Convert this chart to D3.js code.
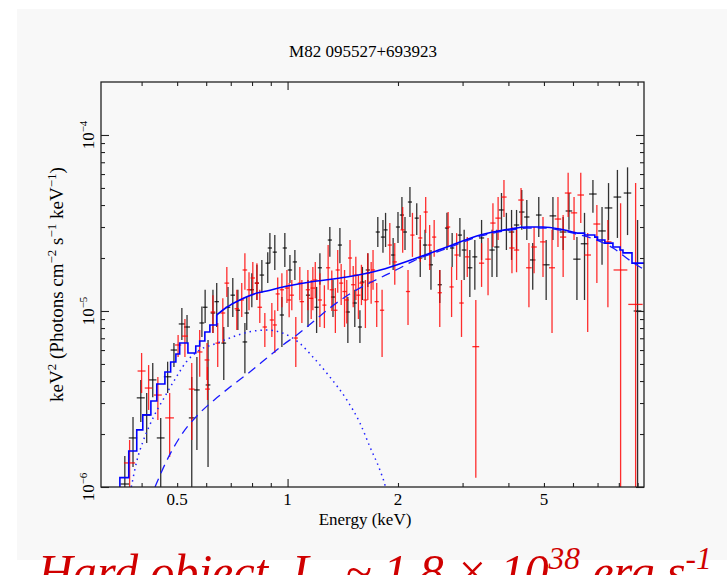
<!DOCTYPE html>
<html>
<head>
<meta charset="utf-8">
<script src="https://cdn.jsdelivr.net/npm/d3@7"></script>
<style>
  html, body { margin: 0; padding: 0; background: #fff; }
  svg { display: block; }
  text { font-family: "Liberation Serif", "Times New Roman", serif; fill: #000; }
</style>
</head>
<body>
<svg id="chart" width="727" height="575"></svg>
<script>
// ---- data ----
var chartTitle = "M82 095527+693923";
var xTickLabels = [0.5, 1, 2, 5];
var xMajorTicks = [1];
var xMinorTicks = [0.4, 0.5, 0.6, 0.7, 0.8, 0.9, 2, 3, 4, 5, 6, 7, 8, 9];
var yTickLabels = [1e-6, 1e-5, 1e-4];
var yTickExponents = ["\u22126", "\u22125", "\u22124"];
var yMajorTicks = [1e-6, 1e-5, 1e-4];
var yMinorTicks = [2e-6, 3e-6, 4e-6, 5e-6, 6e-6, 7e-6, 8e-6, 9e-6,
                   2e-5, 3e-5, 4e-5, 5e-5, 6e-5, 7e-5, 8e-5, 9e-5];

// [energy keV, half bin width keV, flux, lower, upper]
var blackData = [
  [0.360, 0.010, 1.04e-6, 5e-7, 1.50e-6], [0.379, 0.010, 1.90e-6, 1.30e-6, 2.50e-6],
  [0.398, 0.010, 3.21e-6, 2.34e-6, 4.06e-6], [0.413, 0.010, 2.56e-6, 1.78e-6, 3.42e-6],
  [0.429, 0.010, 4.06e-6, 3.24e-6, 5.07e-6], [0.451, 0.011, 1.90e-6, 5e-7, 2.47e-6],
  [0.471, 0.011, 4.23e-6, 3.42e-6, 5.15e-6], [0.490, 0.010, 6.00e-6, 4.81e-6, 6.57e-6],
  [0.515, 0.010, 8.44e-6, 6.84e-6, 1.04e-5], [0.532, 0.010, 8.11e-6, 6.57e-6, 9.49e-6],
  [0.548, 0.010, 2.47e-6, 5e-7, 4.22e-6], [0.566, 0.010, 3.56e-6, 1.62e-6, 5.48e-6],
  [0.584, 0.009, 8.55e-6, 7.12e-6, 1.06e-5], [0.596, 0.009, 1.05e-5, 8.55e-6, 1.32e-5],
  [0.607, 0.009, 3.80e-6, 1.30e-6, 6.84e-6], [0.626, 0.009, 9.74e-6, 7.50e-6, 1.32e-5],
  [0.641, 0.009, 1.13e-5, 8.11e-6, 1.44e-5], [0.670, 0.010, 6.57e-6, 4.06e-6, 8.11e-6],
  [0.688, 0.010, 1.05e-5, 8.11e-6, 1.37e-5], [0.709, 0.010, 1.23e-5, 9.24e-6, 1.54e-5],
  [0.732, 0.010, 1.01e-5, 7.80e-6, 1.32e-5], [0.765, 0.011, 6.67e-6, 4.43e-6, 8.55e-6],
  [0.774, 0.011, 9.74e-6, 7.80e-6, 1.20e-5], [0.799, 0.011, 1.32e-5, 1.05e-5, 1.64e-5],
  [0.825, 0.011, 1.44e-5, 1.155e-5, 1.83e-5], [0.851, 0.012, 1.60e-5, 1.27e-5, 1.95e-5],
  [0.883, 0.012, 1.87e-5, 1.44e-5, 2.16e-5], [0.895, 0.012, 2.28e-5, 1.87e-5, 2.77e-5],
  [0.923, 0.012, 2.16e-5, 1.71e-5, 2.70e-5], [0.965, 0.013, 9.49e-6, 6.24e-6, 1.20e-5],
  [0.983, 0.013, 2.28e-5, 1.78e-5, 2.77e-5], [1.015, 0.014, 1.71e-5, 1.44e-5, 2.08e-5],
  [1.047, 0.014, 1.90e-5, 1.50e-5, 2.22e-5], [1.137, 0.015, 1.23e-5, 8.11e-6, 1.50e-5],
  [1.200, 0.016, 1.05e-5, 7.50e-6, 1.37e-5], [1.225, 0.016, 1.76e-5, 1.41e-5, 2.13e-5],
  [1.304, 0.017, 2.53e-5, 2.03e-5, 3.00e-5], [1.330, 0.017, 1.20e-5, 9.24e-6, 1.50e-5],
  [1.389, 0.018, 2.37e-5, 1.87e-5, 2.96e-5], [1.460, 0.019, 9.87e-6, 6.57e-6, 1.20e-5],
  [1.525, 0.020, 1.11e-5, 8.11e-6, 1.32e-5], [1.575, 0.020, 8.11e-6, 6.57e-6, 1.01e-5],
  [1.600, 0.021, 1.46e-5, 1.155e-5, 1.78e-5], [1.655, 0.022, 1.71e-5, 1.37e-5, 2.13e-5],
  [1.762, 0.023, 2.81e-5, 2.31e-5, 3.42e-5], [1.820, 0.024, 2.63e-5, 2.14e-5, 3.29e-5],
  [1.850, 0.024, 2.89e-5, 2.31e-5, 3.61e-5], [1.940, 0.025, 2.08e-5, 1.71e-5, 2.60e-5],
  [2.000, 0.026, 3.00e-5, 2.43e-5, 3.65e-5], [2.050, 0.027, 3.51e-5, 2.89e-5, 4.44e-5],
  [2.090, 0.027, 2.81e-5, 2.22e-5, 3.42e-5], [2.156, 0.028, 4.16e-5, 3.42e-5, 5.07e-5],
  [2.250, 0.029, 3.37e-5, 2.70e-5, 4.10e-5], [2.300, 0.030, 2.00e-5, 1.56e-5, 2.53e-5],
  [2.370, 0.031, 2.37e-5, 1.95e-5, 2.89e-5], [2.460, 0.032, 1.83e-5, 1.32e-5, 2.22e-5],
  [2.600, 0.034, 1.41e-5, 1.11e-5, 1.71e-5], [2.720, 0.035, 2.96e-5, 2.22e-5, 3.61e-5],
  [2.810, 0.037, 2.28e-5, 1.78e-5, 2.77e-5], [2.950, 0.040, 2.70e-5, 2.03e-5, 3.37e-5],
  [3.030, 0.045, 2.22e-5, 1.50e-5, 2.89e-5], [3.140, 0.050, 1.76e-5, 1.20e-5, 2.22e-5],
  [3.240, 0.050, 2.03e-5, 1.32e-5, 2.53e-5], [3.380, 0.055, 2.60e-5, 1.95e-5, 3.29e-5],
  [3.610, 0.060, 2.22e-5, 1.56e-5, 2.89e-5], [3.720, 0.060, 2.31e-5, 1.56e-5, 2.89e-5],
  [3.830, 0.065, 3.75e-5, 2.89e-5, 4.68e-5], [3.950, 0.065, 2.89e-5, 2.22e-5, 3.61e-5],
  [4.080, 0.070, 2.81e-5, 1.95e-5, 3.75e-5], [4.210, 0.070, 3.08e-5, 2.22e-5, 3.75e-5],
  [4.350, 0.075, 3.65e-5, 2.89e-5, 4.87e-5], [4.490, 0.075, 3.42e-5, 2.53e-5, 4.27e-5],
  [4.660, 0.080, 1.95e-5, 1.32e-5, 2.43e-5], [4.840, 0.085, 3.51e-5, 2.63e-5, 4.44e-5],
  [5.070, 0.110, 1.83e-5, 1.155e-5, 2.53e-5], [5.290, 0.110, 3.47e-5, 2.53e-5, 4.44e-5],
  [5.640, 0.120, 2.81e-5, 2.22e-5, 3.42e-5], [5.850, 0.120, 3.70e-5, 2.89e-5, 4.68e-5],
  [6.150, 0.140, 1.97e-5, 1.155e-5, 2.63e-5], [6.450, 0.150, 2.41e-5, 1.155e-5, 3.61e-5],
  [6.800, 0.160, 4.62e-5, 3.61e-5, 5.55e-5], [7.200, 0.170, 2.85e-5, 1.83e-5, 3.90e-5],
  [7.500, 0.180, 3.85e-5, 2.53e-5, 5.33e-5], [7.930, 0.190, 4.44e-5, 2.60e-5, 6.33e-5],
  [8.450, 0.200, 4.68e-5, 2.70e-5, 6.55e-5], [9.000, 0.220, 1.00e-5, 5e-7, 3.29e-5]
];

var redData = [
  [0.371, 0.013, 1.37e-6, 5e-7, 1.85e-6], [0.400, 0.010, 4.56e-6, 3.42e-6, 5.77e-6],
  [0.418, 0.010, 3.65e-6, 2.74e-6, 4.93e-6], [0.443, 0.011, 3.33e-6, 2.40e-6, 4.22e-6],
  [0.477, 0.013, 2.47e-6, 1.48e-6, 3.42e-6], [0.503, 0.010, 6.41e-6, 5.48e-6, 7.31e-6],
  [0.525, 0.010, 7.20e-6, 5.48e-6, 9.00e-6], [0.548, 0.010, 3.60e-6, 1.85e-6, 5.07e-6],
  [0.576, 0.010, 5.85e-6, 4.23e-6, 7.80e-6], [0.603, 0.009, 5.27e-6, 4.06e-6, 6.57e-6],
  [0.605, 0.009, 3.60e-6, 3.12e-6, 4.81e-6], [0.626, 0.009, 9.87e-6, 7.50e-6, 1.23e-5],
  [0.645, 0.009, 6.57e-6, 4.81e-6, 8.55e-6], [0.666, 0.010, 9.74e-6, 6.57e-6, 1.18e-5],
  [0.683, 0.010, 1.44e-5, 1.20e-5, 1.78e-5], [0.727, 0.010, 1.03e-5, 7.80e-6, 1.32e-5],
  [0.750, 0.011, 1.155e-5, 9.24e-6, 1.44e-5], [0.765, 0.011, 1.71e-5, 1.32e-5, 2.13e-5],
  [0.785, 0.011, 1.32e-5, 1.01e-5, 1.66e-5], [0.804, 0.011, 1.54e-5, 1.23e-5, 1.90e-5],
  [0.825, 0.011, 1.44e-5, 1.155e-5, 1.87e-5], [0.840, 0.012, 1.05e-5, 8.55e-6, 1.32e-5],
  [0.867, 0.012, 8.11e-6, 6.24e-6, 9.74e-6], [0.906, 0.012, 8.89e-6, 7.12e-6, 1.11e-5],
  [0.923, 0.012, 8.33e-6, 5.77e-6, 1.01e-5], [0.940, 0.012, 1.25e-5, 1.00e-5, 1.55e-5],
  [0.965, 0.013, 1.32e-5, 1.05e-5, 1.64e-5], [0.996, 0.013, 1.35e-5, 1.11e-5, 1.71e-5],
  [1.010, 0.013, 1.155e-5, 9.20e-6, 1.44e-5], [1.027, 0.014, 1.23e-5, 1.01e-5, 1.50e-5],
  [1.053, 0.014, 7.02e-6, 4.81e-6, 9.24e-6], [1.080, 0.014, 1.44e-5, 1.15e-5, 1.78e-5],
  [1.094, 0.015, 1.13e-5, 8.55e-6, 1.50e-5], [1.136, 0.015, 1.32e-5, 1.01e-5, 1.71e-5],
  [1.160, 0.015, 1.18e-5, 9.00e-6, 1.50e-5], [1.172, 0.016, 1.35e-5, 1.01e-5, 1.78e-5],
  [1.190, 0.016, 1.50e-5, 1.18e-5, 1.90e-5], [1.225, 0.016, 1.155e-5, 8.11e-6, 1.64e-5],
  [1.260, 0.016, 1.08e-5, 8.00e-6, 1.40e-5], [1.290, 0.017, 1.76e-5, 1.32e-5, 2.37e-5],
  [1.320, 0.017, 1.32e-5, 1.00e-5, 1.70e-5], [1.350, 0.018, 1.01e-5, 7.50e-6, 1.35e-5],
  [1.370, 0.018, 1.71e-5, 1.27e-5, 2.22e-5], [1.400, 0.018, 1.44e-5, 1.08e-5, 1.85e-5],
  [1.430, 0.019, 1.29e-5, 8.11e-6, 1.71e-5], [1.450, 0.019, 1.155e-5, 8.50e-6, 1.50e-5],
  [1.480, 0.019, 2.00e-5, 1.56e-5, 2.53e-5], [1.510, 0.020, 1.41e-5, 1.05e-5, 1.80e-5],
  [1.535, 0.020, 1.60e-5, 1.155e-5, 2.03e-5], [1.560, 0.020, 1.23e-5, 9.00e-6, 1.60e-5],
  [1.590, 0.021, 1.44e-5, 1.08e-5, 1.83e-5], [1.630, 0.021, 1.155e-5, 8.00e-6, 1.50e-5],
  [1.655, 0.022, 1.64e-5, 1.155e-5, 2.13e-5], [1.690, 0.022, 1.46e-5, 1.10e-5, 1.90e-5],
  [1.710, 0.022, 1.71e-5, 1.32e-5, 2.22e-5], [1.750, 0.023, 1.13e-5, 8.11e-6, 1.44e-5],
  [1.810, 0.024, 1.01e-5, 5.48e-6, 1.32e-5], [1.900, 0.025, 2.37e-5, 1.83e-5, 3.16e-5],
  [1.960, 0.026, 1.90e-5, 1.41e-5, 2.43e-5], [2.060, 0.027, 2.89e-5, 2.14e-5, 3.90e-5],
  [2.130, 0.028, 1.29e-5, 8.33e-6, 1.71e-5], [2.190, 0.029, 2.70e-5, 2.03e-5, 3.61e-5],
  [2.300, 0.030, 2.60e-5, 1.90e-5, 3.51e-5], [2.380, 0.031, 3.65e-5, 2.77e-5, 4.44e-5],
  [2.440, 0.032, 2.37e-5, 1.71e-5, 3.08e-5], [2.510, 0.033, 2.63e-5, 2.03e-5, 3.29e-5],
  [2.600, 0.034, 1.27e-5, 8.11e-6, 1.71e-5], [2.740, 0.036, 3.00e-5, 2.31e-5, 3.65e-5],
  [2.800, 0.037, 1.37e-5, 9.24e-6, 1.78e-5], [2.890, 0.040, 2.08e-5, 1.50e-5, 2.77e-5],
  [2.980, 0.042, 1.11e-5, 7.12e-6, 1.50e-5], [3.090, 0.045, 2.03e-5, 1.56e-5, 2.63e-5],
  [3.260, 0.070, 6.27e-6, 1.13e-6, 1.155e-5], [3.380, 0.055, 1.87e-5, 1.37e-5, 2.43e-5],
  [3.520, 0.060, 1.97e-5, 1.23e-5, 2.60e-5], [3.630, 0.060, 3.16e-5, 2.31e-5, 4.10e-5],
  [3.750, 0.065, 3.37e-5, 2.53e-5, 4.44e-5], [3.890, 0.065, 4.44e-5, 3.42e-5, 5.55e-5],
  [4.090, 0.070, 2.28e-5, 1.64e-5, 3.00e-5], [4.210, 0.070, 2.22e-5, 1.66e-5, 2.89e-5],
  [4.330, 0.075, 4.27e-5, 3.08e-5, 4.99e-5], [4.550, 0.080, 1.76e-5, 1.05e-5, 2.43e-5],
  [4.700, 0.080, 2.31e-5, 1.64e-5, 3.00e-5], [4.970, 0.090, 2.47e-5, 1.56e-5, 3.42e-5],
  [5.260, 0.100, 1.76e-5, 7.50e-6, 2.89e-5], [5.460, 0.110, 3.33e-5, 2.31e-5, 4.44e-5],
  [5.640, 0.110, 2.63e-5, 1.56e-5, 3.51e-5], [5.820, 0.120, 4.68e-5, 3.42e-5, 6.10e-5],
  [6.040, 0.120, 3.61e-5, 2.53e-5, 4.44e-5], [6.300, 0.130, 4.56e-5, 3.16e-5, 6.10e-5],
  [6.580, 0.140, 2.08e-5, 7.60e-6, 2.77e-5], [6.970, 0.150, 3.12e-5, 1.44e-5, 4.00e-5],
  [7.470, 0.170, 2.47e-5, 1.05e-5, 3.29e-5], [8.090, 0.350, 1.71e-5, 5e-7, 4.10e-5],
  [8.890, 0.400, 1.09e-5, 5e-7, 5.33e-5]
];

// total model: stepped at the soft end, smooth in the middle, stepped at the hard end
var modelSoft = [
  [0.330, 5e-7], [0.349, 1.13e-6], [0.369, 1.60e-6], [0.388, 2.11e-6], [0.403, 2.57e-6],
  [0.424, 3.08e-6], [0.440, 3.85e-6], [0.463, 4.50e-6], [0.480, 5.13e-6], [0.496, 5.70e-6],
  [0.508, 6.58e-6], [0.535, 5.77e-6], [0.562, 6.32e-6], [0.576, 6.75e-6], [0.595, 7.60e-6],
  [0.614, 8.33e-6], [0.641, 9.49e-6]
];
var modelMid = [
  [0.641, 9.49e-6], [0.683, 1.05e-5], [0.741, 1.155e-5], [0.825, 1.265e-5], [0.878, 1.30e-5],
  [0.971, 1.37e-5], [1.150, 1.46e-5], [1.450, 1.56e-5], [1.790, 1.71e-5], [2.200, 1.97e-5],
  [2.720, 2.31e-5], [3.350, 2.70e-5], [3.630, 2.81e-5], [4.040, 2.92e-5], [4.490, 3.00e-5],
  [4.970, 3.00e-5], [5.530, 2.92e-5], [6.150, 2.77e-5]
];
var modelHard = [
  [6.150, 2.77e-5], [6.450, 2.70e-5], [6.880, 2.63e-5], [7.000, 2.53e-5], [7.330, 2.43e-5],
  [7.710, 2.31e-5], [8.060, 2.22e-5], [8.210, 2.14e-5], [8.690, 1.87e-5], [9.370, 1.87e-5]
];
// power-law component (dashed) and thermal component (dotted)
var powerlaw = [
  [0.435, 1.00e-6], [0.469, 1.42e-6], [0.518, 2.03e-6], [0.576, 2.63e-6], [0.641, 3.21e-6],
  [0.709, 3.80e-6], [0.789, 4.50e-6], [0.878, 5.40e-6], [0.971, 6.41e-6], [1.060, 7.31e-6],
  [1.172, 8.66e-6], [1.304, 1.04e-5], [1.451, 1.22e-5], [1.605, 1.38e-5], [1.785, 1.54e-5],
  [1.986, 1.72e-5], [2.200, 1.92e-5], [2.720, 2.27e-5], [3.350, 2.66e-5], [4.040, 2.88e-5],
  [4.490, 2.96e-5], [4.970, 2.96e-5], [5.530, 2.88e-5], [6.150, 2.73e-5], [6.800, 2.58e-5],
  [7.710, 2.28e-5], [8.690, 1.90e-5], [9.370, 1.72e-5]
];
var thermal = [
  [0.375, 1.00e-6], [0.388, 1.40e-6], [0.403, 1.80e-6], [0.421, 2.25e-6], [0.468, 3.40e-6],
  [0.498, 4.23e-6], [0.530, 5.15e-6], [0.576, 6.00e-6], [0.640, 6.55e-6], [0.711, 7.14e-6],
  [0.789, 7.62e-6], [0.876, 7.80e-6], [0.973, 7.47e-6], [1.080, 6.55e-6], [1.172, 5.48e-6],
  [1.304, 4.22e-6], [1.451, 3.12e-6], [1.575, 2.31e-6], [1.677, 1.69e-6], [1.785, 1.25e-6],
  [1.842, 1.03e-6], [1.870, 9.0e-7]
];

// ---- layout ----
var svg = d3.select("#chart");
var plotLeft = 101, plotRight = 644, plotTop = 82, plotBottom = 487;

var x = d3.scaleLog().domain([0.31, 9.37]).range([plotLeft, plotRight]);
var y = d3.scaleLog().domain([1e-6, 2e-4]).range([plotBottom, plotTop]);

svg.append("rect").attr("x", 17).attr("y", 9).attr("width", 710).attr("height", 551)
  .attr("fill", "#f8f8f8");

svg.append("clipPath").attr("id", "plotClip").append("rect")
  .attr("x", plotLeft).attr("y", plotTop)
  .attr("width", plotRight - plotLeft).attr("height", plotBottom - plotTop);

var plot = svg.append("g").attr("clip-path", "url(#plotClip)");

function drawSeries(data, color, opacity) {
  var g = plot.append("g").attr("stroke", color).attr("stroke-width", 1.3)
    .attr("stroke-opacity", opacity);
  g.selectAll("line.v").data(data).join("line").attr("class", "v")
    .attr("x1", function (d) { return x(d[0]); })
    .attr("x2", function (d) { return x(d[0]); })
    .attr("y1", function (d) { return y(d[3]); })
    .attr("y2", function (d) { return y(d[4]); });
  g.selectAll("line.h").data(data).join("line").attr("class", "h")
    .attr("x1", function (d) { return x(d[0] - d[1]); })
    .attr("x2", function (d) { return x(d[0] + d[1]); })
    .attr("y1", function (d) { return y(d[2]); })
    .attr("y2", function (d) { return y(d[2]); });
}
drawSeries(blackData, "#000", 0.8);
drawSeries(redData, "#ff0000", 0.82);

function lineGen(curve) {
  return d3.line().x(function (d) { return x(d[0]); })
    .y(function (d) { return y(d[1]); }).curve(curve);
}
plot.append("path").attr("d", lineGen(d3.curveMonotoneX)(thermal))
  .attr("fill", "none").attr("stroke", "#2020ff").attr("stroke-width", 1.5)
  .attr("stroke-dasharray", "1.5,4");
plot.append("path").attr("d", lineGen(d3.curveMonotoneX)(powerlaw))
  .attr("fill", "none").attr("stroke", "#1a1aff").attr("stroke-width", 1.3)
  .attr("stroke-dasharray", "9,6");
var modelStyle = function (p) {
  p.attr("fill", "none").attr("stroke", "#0000ff").attr("stroke-width", 1.6);
};
plot.append("path").attr("d", lineGen(d3.curveStepAfter)(modelSoft)).call(modelStyle);
plot.append("path").attr("d", lineGen(d3.curveMonotoneX)(modelMid)).call(modelStyle);
plot.append("path").attr("d", lineGen(d3.curveStepAfter)(modelHard)).call(modelStyle);

// ---- frame and ticks ----
var frame = svg.append("g");
function tickAxis(gen, values, size, tx, ty) {
  var g = frame.append("g").attr("transform", "translate(" + tx + "," + ty + ")")
    .call(gen.tickValues(values).tickSize(size).tickFormat(""));
  g.select(".domain").remove();
  g.selectAll(".tick line").attr("stroke", "#222").attr("stroke-width", 1.1);
}
tickAxis(d3.axisBottom(x), xMinorTicks, -4, 0, plotBottom);
tickAxis(d3.axisBottom(x), xMajorTicks, -8, 0, plotBottom);
tickAxis(d3.axisTop(x), xMinorTicks, -4, 0, plotTop);
tickAxis(d3.axisTop(x), xMajorTicks, -8, 0, plotTop);
tickAxis(d3.axisLeft(y), yMinorTicks, -4, plotLeft, 0);
tickAxis(d3.axisLeft(y), yMajorTicks, -8, plotLeft, 0);
tickAxis(d3.axisRight(y), yMinorTicks, -4, plotRight, 0);
tickAxis(d3.axisRight(y), yMajorTicks, -8, plotRight, 0);

frame.append("rect").attr("x", plotLeft).attr("y", plotTop)
  .attr("width", plotRight - plotLeft).attr("height", plotBottom - plotTop)
  .attr("fill", "none").attr("stroke", "#222").attr("stroke-width", 1.3);

// x tick labels
svg.append("g").selectAll("text").data(xTickLabels).join("text")
  .attr("x", function (d) { return x(d); }).attr("y", 505)
  .attr("text-anchor", "middle").attr("font-size", 17)
  .text(function (d) { return d; });

// y tick labels, rotated, as 10 with superscript exponent
var yLab = svg.append("g").selectAll("text").data(yTickLabels).join("text")
  .attr("transform", function (d) { return "translate(94," + y(d) + ") rotate(-90)"; })
  .attr("text-anchor", "middle").attr("font-size", 17);
yLab.append("tspan").text("10");
yLab.append("tspan").attr("font-size", 11).attr("dy", -7)
  .text(function (d, i) { return yTickExponents[i]; });

// title and axis titles
svg.append("text").attr("x", 363).attr("y", 57).attr("text-anchor", "middle")
  .attr("font-size", 17).text(chartTitle);
svg.append("text").attr("x", 365).attr("y", 525).attr("text-anchor", "middle")
  .attr("font-size", 17).text("Energy (keV)");

var yTitle = svg.append("text").attr("transform", "translate(63," + ((plotTop + plotBottom) / 2) + ") rotate(-90)")
  .attr("text-anchor", "middle").attr("font-size", 19);
var yTitleParts = [["keV", 0], ["2", -7], [" (Photons cm", 7], ["\u22122", -7], [" s", 7],
                   ["\u22121", -7], [" keV", 7], ["\u22121", -7], [")", 7]];
yTitleParts.forEach(function (p) {
  var t = yTitle.append("tspan").attr("dy", p[1]).text(p[0]);
  if (p[1] < 0) t.attr("font-size", 13);
});

// caption underneath, cut by the window edge
var caption = svg.append("text").attr("x", 38).attr("y", 588)
  .attr("font-style", "italic").style("fill", "#d00000");
var captionParts = [["Hard object, L", 0, 46], ["x", 10, 30], [" ~ 1.8 \u00d7 10", -10, 46],
                    ["38", -18, 30], [" erg s", 18, 46], ["-1", -18, 30]];
captionParts.forEach(function (p) {
  caption.append("tspan").datum(p).attr("dy", p[1]).attr("font-size", p[2]).text(p[0]);
});
var capW = caption.node().getComputedTextLength();
if (capW > 0) {
  var k = 674 / capW;
  caption.selectAll("tspan").each(function (p) {
    d3.select(this).attr("font-size", p[2] * k).attr("dy", p[1] * k);
  });
}
</script>
</body>
</html>
